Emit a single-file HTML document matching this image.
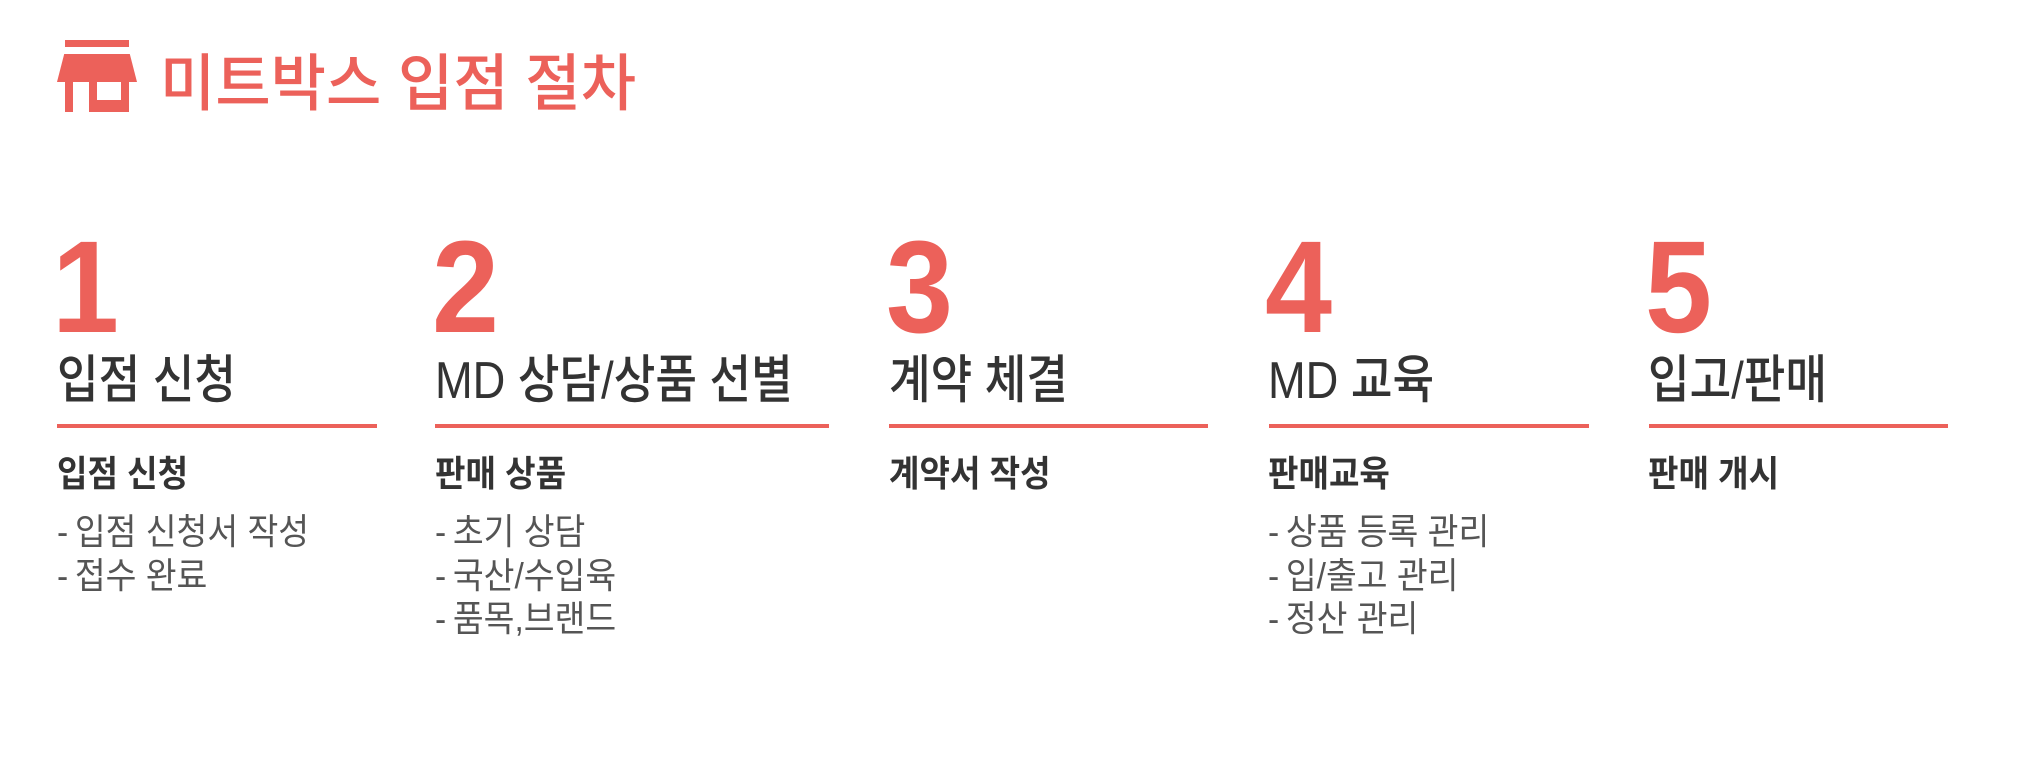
<!DOCTYPE html>
<html><head><meta charset="utf-8"><style>
html,body{margin:0;padding:0;background:#fff;}
body{width:2038px;height:758px;position:relative;overflow:hidden;font-family:"Liberation Sans","Noto Sans CJK KR",sans-serif;}
.a{position:absolute;white-space:nowrap;transform-origin:0 0;}
.t{font-size:62px;line-height:1;color:#ec615a;font-weight:500;transform:scaleX(0.97);left:160px;top:54px;}
.n{font-family:"Liberation Sans",sans-serif;font-weight:bold;font-size:131px;line-height:1;color:#ec615a;top:221px;transform:scaleX(0.92);}
.h{font-size:52px;line-height:1;color:#333;font-weight:500;transform:scaleX(0.87);top:355px;}
.ln{position:absolute;top:424px;height:4px;background:#ec615a;}
.s{font-size:36px;line-height:1;color:#333;font-weight:bold;transform:scaleX(0.92);top:456px;}
.l{font-size:36px;line-height:43.5px;color:#555;transform:scaleX(0.93);top:510px;}
.r{position:absolute;background:#ec615a;}
</style></head><body>
<div class="r" style="left:65px;top:40px;width:64px;height:7px"></div>
<div class="r" style="left:57px;top:54px;width:80px;height:28px;clip-path:polygon(9% 0,91% 0,100% 100%,0 100%)"></div>
<div class="r" style="left:65px;top:82px;width:8px;height:30px"></div>
<div class="r" style="left:89px;top:82px;width:8px;height:30px"></div>
<div class="r" style="left:121px;top:82px;width:8px;height:30px"></div>
<div class="r" style="left:89px;top:100px;width:40px;height:12px"></div>
<div class="a t">미트박스 입점 절차</div>

<div class="a n" style="left:52px">1</div>
<div class="a n" style="left:432px">2</div>
<div class="a n" style="left:886px">3</div>
<div class="a n" style="left:1265px">4</div>
<div class="a n" style="left:1645px">5</div>

<div class="a h" style="left:57px">입점 신청</div>
<div class="a h" style="left:435px">MD 상담/상품 선별</div>
<div class="a h" style="left:889px">계약 체결</div>
<div class="a h" style="left:1268px">MD 교육</div>
<div class="a h" style="left:1648px">입고/판매</div>

<div class="ln" style="left:57px;width:320px"></div>
<div class="ln" style="left:435px;width:394px"></div>
<div class="ln" style="left:889px;width:319px"></div>
<div class="ln" style="left:1269px;width:320px"></div>
<div class="ln" style="left:1649px;width:299px"></div>

<div class="a s" style="left:57px">입점 신청</div>
<div class="a s" style="left:435px">판매 상품</div>
<div class="a s" style="left:889px">계약서 작성</div>
<div class="a s" style="left:1268px">판매교육</div>
<div class="a s" style="left:1648px">판매 개시</div>

<div class="a l" style="left:57px">-&thinsp;입점 신청서 작성<br>-&thinsp;접수 완료</div>
<div class="a l" style="left:435px">-&thinsp;초기 상담<br>-&thinsp;국산/수입육<br>-&thinsp;품목,브랜드</div>
<div class="a l" style="left:1268px">-&thinsp;상품 등록 관리<br>-&thinsp;입/출고 관리<br>-&thinsp;정산 관리</div>
</body></html>
